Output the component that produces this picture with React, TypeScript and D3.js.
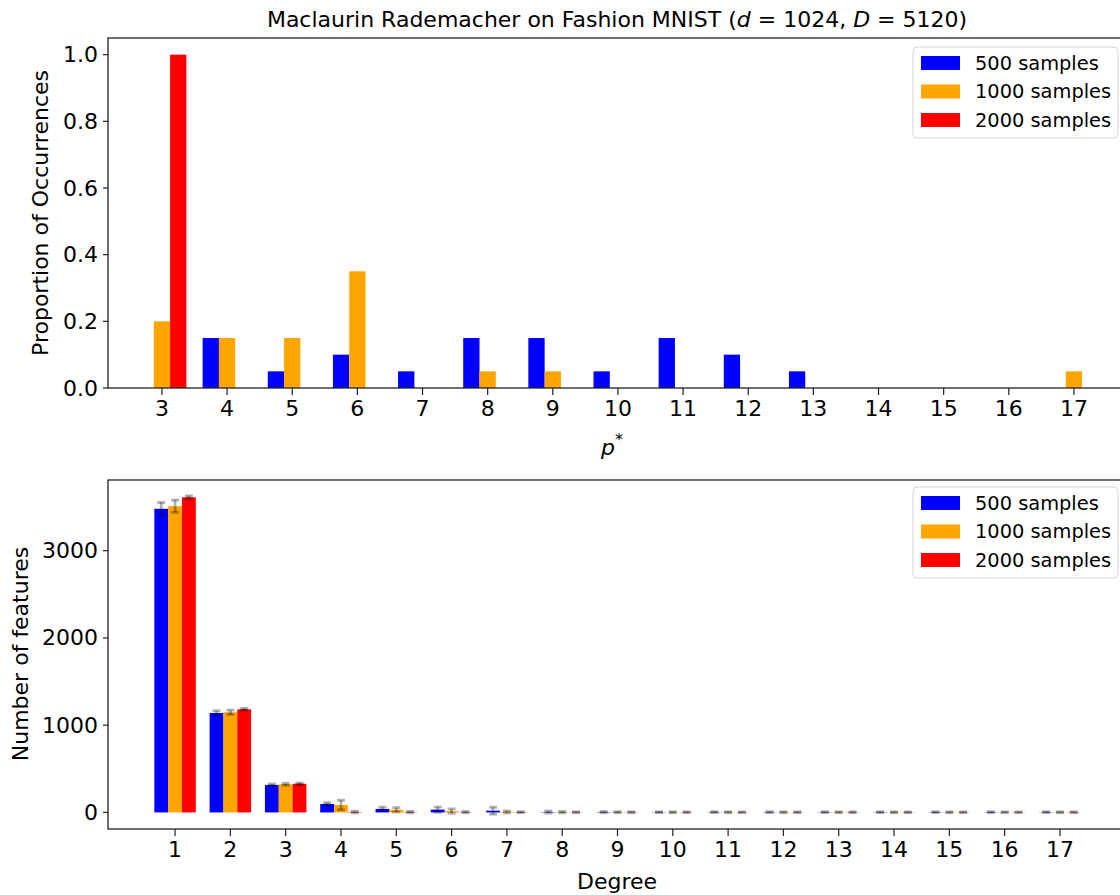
import React from "react";
import * as d3 from "d3";

const pStar = [3, 4, 5, 6, 7, 8, 9, 10, 11, 12, 13, 14, 15, 16, 17];
const prop500 = [0, 0.15, 0.05, 0.1, 0.05, 0.15, 0.15, 0.05, 0.15, 0.1, 0.05, 0, 0, 0, 0];
const prop1000 = [0.2, 0.15, 0.15, 0.35, 0, 0.05, 0.05, 0, 0, 0, 0, 0, 0, 0, 0.05];
const prop2000 = [1.0, 0, 0, 0, 0, 0, 0, 0, 0, 0, 0, 0, 0, 0, 0];
const topYTicks = [0, 0.2, 0.4, 0.6, 0.8, 1.0];

const degrees = [1, 2, 3, 4, 5, 6, 7, 8, 9, 10, 11, 12, 13, 14, 15, 16, 17];
const feat500 = [3480, 1140, 315, 97, 40, 32, 20, 5, 4, 3, 3, 3, 3, 3, 3, 3, 3];
const feat1000 = [3510, 1148, 322, 85, 30, 15, 6, 3, 3, 2, 2, 2, 2, 2, 2, 2, 2];
const feat2000 = [3612, 1182, 328, 5, 4, 3, 3, 2, 2, 2, 2, 2, 2, 2, 2, 2, 2];
const err500 = [72, 25, 12, 15, 20, 30, 40, 12, 8, 5, 5, 5, 5, 5, 5, 5, 5];
const err1000 = [70, 25, 12, 55, 25, 25, 12, 8, 6, 5, 5, 5, 5, 5, 5, 5, 5];
const err2000 = [17, 12, 10, 10, 8, 8, 6, 6, 6, 5, 5, 5, 5, 5, 5, 5, 5];
const bottomYTicks = [0, 1000, 2000, 3000];

const seriesNames = ["500 samples", "1000 samples", "2000 samples"];
const colors = ["#0000ff", "#ffa500", "#ff0000"];

const FONT = "DejaVu Sans, sans-serif";
const TICK_FS = 22;
const LEG_FS = 19.4;
const BW = 0.25;

function Legend({ x, y }: { x: number; y: number }) {
  return (
    <g transform={`translate(${x},${y})`}>
      <rect x={0} y={0} width={205} height={91} rx={4} fill="white" stroke="#cccccc" strokeWidth={1} opacity={0.8} />
      {seriesNames.map((n, i) => (
        <g key={n}>
          <rect x={8} y={9 + i * 28.5} width={39} height={14} fill={colors[i]} />
          <text x={62} y={16 + i * 28.5} dominantBaseline="central" fontFamily={FONT} fontSize={LEG_FS} fill="#000">
            {n}
          </text>
        </g>
      ))}
    </g>
  );
}

export default function App() {
  const tx = d3.scaleLinear().domain([2.172, 17.83]).range([108, 1128]);
  const ty = d3.scaleLinear().domain([0, 1.05]).range([388, 38]);
  const topSeries = [prop500, prop1000, prop2000];

  const bx = d3.scaleLinear().domain([-0.2125, 18.2125]).range([108, 1127]);
  const by = d3.scaleLinear().domain([-190, 3810]).range([829, 480]);
  const botSeries = [feat500, feat1000, feat2000];
  const botErr = [err500, err1000, err2000];

  const spine = "#222";
  return (
    <svg
      width={1120}
      height={895}
      style={{ position: "absolute", left: 0, top: 0, background: "white" }}
      fontFamily={FONT}
    >
      <rect x={0} y={0} width={1120} height={895} fill="white" />
      <text x={617} y={27} textAnchor="middle" fontSize={TICK_FS} fill="#000">
        Maclaurin Rademacher on Fashion MNIST (<tspan fontStyle="italic">d</tspan> = 1024, <tspan fontStyle="italic">D</tspan> = 5120)
      </text>

      {topSeries.map((vals, si) =>
        vals.map((v, i) => {
          const xc = pStar[i] + (si - 1) * BW;
          const x0 = tx(xc - BW / 2);
          const x1 = tx(xc + BW / 2);
          return v > 0 ? (
            <rect key={`t${si}-${i}`} x={x0} y={ty(v)} width={x1 - x0} height={ty(0) - ty(v)} fill={colors[si]} />
          ) : null;
        })
      )}
      <rect x={108} y={38} width={1020} height={350} fill="none" stroke={spine} strokeWidth={1.3} />
      {topYTicks.map((t) => (
        <g key={`ty${t}`}>
          <line x1={103} x2={108} y1={ty(t)} y2={ty(t)} stroke={spine} strokeWidth={1.2} />
          <text x={98} y={ty(t)} textAnchor="end" dominantBaseline="central" fontSize={TICK_FS} fill="#000">
            {d3.format(".1f")(t)}
          </text>
        </g>
      ))}
      {pStar.map((p) => (
        <g key={`tx${p}`}>
          <line x1={tx(p)} x2={tx(p)} y1={388} y2={395} stroke={spine} strokeWidth={1.2} />
          <text x={tx(p)} y={416} textAnchor="middle" fontSize={TICK_FS} fill="#000">
            {p}
          </text>
        </g>
      ))}
      <text x={612} y={455} textAnchor="middle" fontSize={TICK_FS} fill="#000">
        <tspan fontStyle="italic">p</tspan>
        <tspan fontSize={16} dy={-10}>*</tspan>
      </text>
      <text transform={`translate(48,${213}) rotate(-90)`} textAnchor="middle" fontSize={TICK_FS} fill="#000">
        Proportion of Occurrences
      </text>
      <Legend x={913} y={47} />

      {botSeries.map((vals, si) =>
        vals.map((v, i) => {
          const xc = degrees[i] + (si - 1) * BW;
          const x0 = bx(xc - BW / 2);
          const x1 = bx(xc + BW / 2);
          return (
            <rect key={`b${si}-${i}`} x={x0} y={by(v)} width={x1 - x0} height={by(0) - by(v)} fill={colors[si]} />
          );
        })
      )}
      {botSeries.map((vals, si) =>
        vals.map((v, i) => {
          const xc = bx(degrees[i] + (si - 1) * BW);
          const e = botErr[si][i];
          const yT = by(v + e);
          const yB = by(v - e);
          return (
            <g key={`e${si}-${i}`} stroke="#000" strokeOpacity={0.3} strokeWidth={2.8}>
              <line x1={xc} x2={xc} y1={yT} y2={yB} />
              <line x1={xc - 4} x2={xc + 4} y1={yT} y2={yT} />
              <line x1={xc - 4} x2={xc + 4} y1={yB} y2={yB} />
            </g>
          );
        })
      )}
      <rect x={108} y={480} width={1019} height={349} fill="none" stroke={spine} strokeWidth={1.3} />
      {bottomYTicks.map((t) => (
        <g key={`by${t}`}>
          <line x1={103} x2={108} y1={by(t)} y2={by(t)} stroke={spine} strokeWidth={1.2} />
          <text x={98} y={by(t)} textAnchor="end" dominantBaseline="central" fontSize={TICK_FS} fill="#000">
            {t}
          </text>
        </g>
      ))}
      {degrees.map((p) => (
        <g key={`bx${p}`}>
          <line x1={bx(p)} x2={bx(p)} y1={829} y2={836} stroke={spine} strokeWidth={1.2} />
          <text x={bx(p)} y={857} textAnchor="middle" fontSize={TICK_FS} fill="#000">
            {p}
          </text>
        </g>
      ))}
      <text x={617} y={889} textAnchor="middle" fontSize={TICK_FS} fill="#000">
        Degree
      </text>
      <text transform={`translate(28,${654}) rotate(-90)`} textAnchor="middle" fontSize={TICK_FS} fill="#000">
        Number of features
      </text>
      <Legend x={913} y={487} />
    </svg>
  );
}
